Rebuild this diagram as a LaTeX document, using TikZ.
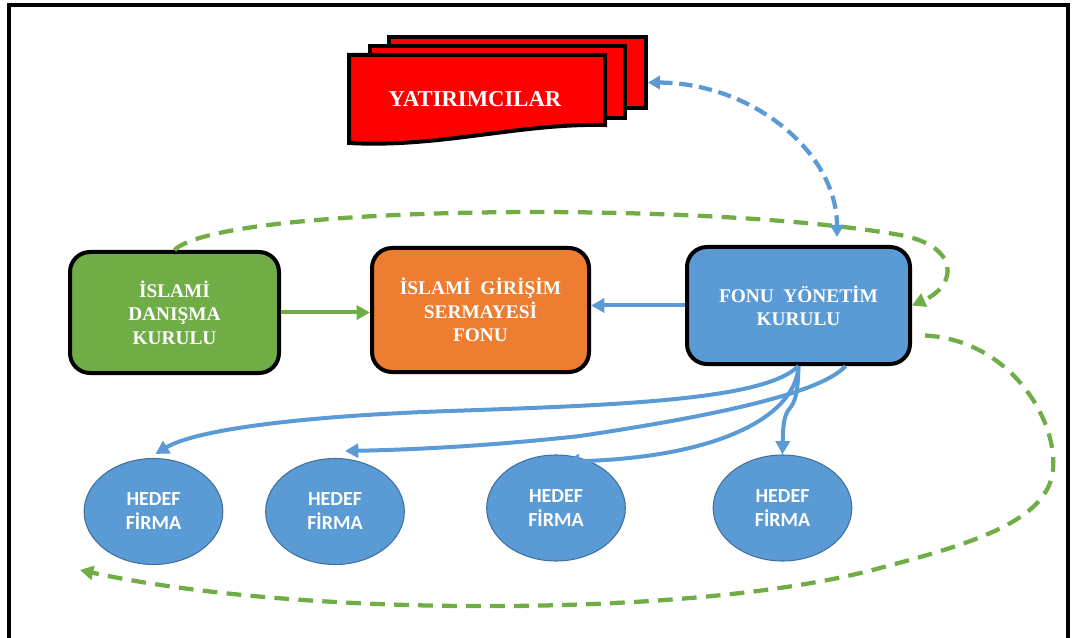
\documentclass[tikz,border=0pt]{standalone}
\usepackage{fontspec}
\setmainfont{Liberation Serif}
\newfontfamily\firmfont{Carlito}
\usetikzlibrary{arrows.meta,calc,shapes.geometric}

\definecolor{boardgreen}{HTML}{70AD47}
\definecolor{fundorange}{HTML}{ED7D31}
\definecolor{mgmtblue}{HTML}{5B9BD5}
\definecolor{firmedge}{HTML}{41719C}
\definecolor{investred}{HTML}{FF0000}

\begin{document}
\begin{tikzpicture}[x=0.75pt,y=-0.75pt,
  box/.style={draw=black, line width=3pt, rounded corners=15pt, text=white,
    font=\fontsize{14.5}{17.5}\selectfont\bfseries, align=center, inner sep=0pt},
  firm/.style={ellipse, draw=firmedge, line width=0.8pt, fill=mgmtblue,
    minimum width=104pt, minimum height=79.5pt, inner sep=0pt, text=white, align=center,
    font=\firmfont\bfseries\fontsize{15}{18}\selectfont},
  sheet/.style={draw=black, line width=3pt, fill=investred, line join=miter},
  flow/.style={line width=3pt, draw=mgmtblue, -{Triangle[length=10pt,width=10.5pt]}},
  gflow/.style={line width=3pt, draw=boardgreen, -{Triangle[length=10pt,width=10.5pt]}},
  gdash/.style={line width=3.2pt, draw=boardgreen, dash pattern=on 11pt off 7pt,
    -{Triangle[length=10pt,width=10.5pt]}},
  bdash/.style={line width=3.2pt, draw=mgmtblue, dash pattern=on 10pt off 5pt,
    {Triangle[length=9pt,width=10pt]}-{Triangle[length=9pt,width=10pt]}}
]
\useasboundingbox (0,0) rectangle (1072,638);

% page frame (open at the bottom)
\draw[line width=2.4pt] (9,660) -- (9,5) -- (1068,5) -- (1068,660);

% stacked investor documents
\node[sheet, rectangle, minimum width=192.75pt, minimum height=53.25pt, inner sep=0pt] (docs) at (517.5,72.5) {};
\draw[sheet] (370,46) rectangle (625,118);
\draw[sheet] (349,55) -- (605,55) -- (605,125)
  .. controls (520,123) and (440,148) .. (349,143) -- cycle;
\node[text=white, font=\fontsize{17}{20}\selectfont\bfseries] (inv) at (475,99) {YATIRIMCILAR};

% boards and fund
\node[box, fill=boardgreen, minimum width=156.75pt, minimum height=90.75pt] (idk) at (174.5,312.5)
  {İSLAMİ\\DANIŞMA\\KURULU};
\node[box, fill=fundorange, minimum width=162.75pt, minimum height=93pt] (ifon) at (480.5,310)
  {İSLAMİ\ \ GİRİŞİM\\SERMAYESİ\\FONU};
\node[box, fill=mgmtblue, minimum width=167.25pt, minimum height=87.75pt] (fyk) at (798.5,305.5)
  {FONU\ \ YÖNETİM\\KURULU};

% target firms
\node[firm] (e1) at (153.5,511.5) {HEDEF\\FİRMA};
\node[firm] (e2) at (335,511.5) {HEDEF\\FİRMA};
\node[firm] (e3) at (556,508) {HEDEF\\FİRMA};
\node[firm] (e4) at (782.5,508) {HEDEF\\FİRMA};

% solid links between the boards
\draw[gflow] (idk.east) -- (idk.east -| ifon.west);
\draw[flow] (fyk.west) -- (fyk.west -| ifon.east);

% management board to the target firms
\draw[flow] (fyk.south) .. controls (765,400) and (620,405) .. (450,411)
  .. controls (300,416) and (195,430) .. ($(e1.north)+(2,-4)$);
\draw[flow] ($(fyk.south)+(47,0)$) .. controls (820,395) and (700,418) .. (580,436)
  .. controls (480,447) and (400,450) .. ($(e2.north)+(10,-7)$);
\draw[flow] (fyk.south) .. controls (795,420) and (710,458) .. ($(e3.north)+(10,7)$);
\draw[flow] (fyk.south) .. controls (798,385) and (797,400) .. (790,408)
  .. controls (784,415) and (783,425) .. (e4.north);

% dashed feedback loops
\coordinate (loopstart) at ($(fyk.east)+(13,30)$);
\coordinate (loopend) at (80,570);
\draw[gdash] (idk.north) .. controls (220,205) and (700,200) .. (900,235)
  .. controls (960,246) and (958,285) .. (fyk.east);
\draw[gdash] (loopstart) .. controls (1010,340) and (1058,420) .. (1053,470)
  .. controls (1048,520) and (975,543) .. (880,568)
  .. controls (700,618) and (300,618) .. (loopend);

% investors <-> management board
\draw[bdash] ($(docs.east)+(0,10)$) .. controls (752,83) and (837,152) .. ($(fyk.north)+(38.5,-8)$);
\end{tikzpicture}
\end{document}
